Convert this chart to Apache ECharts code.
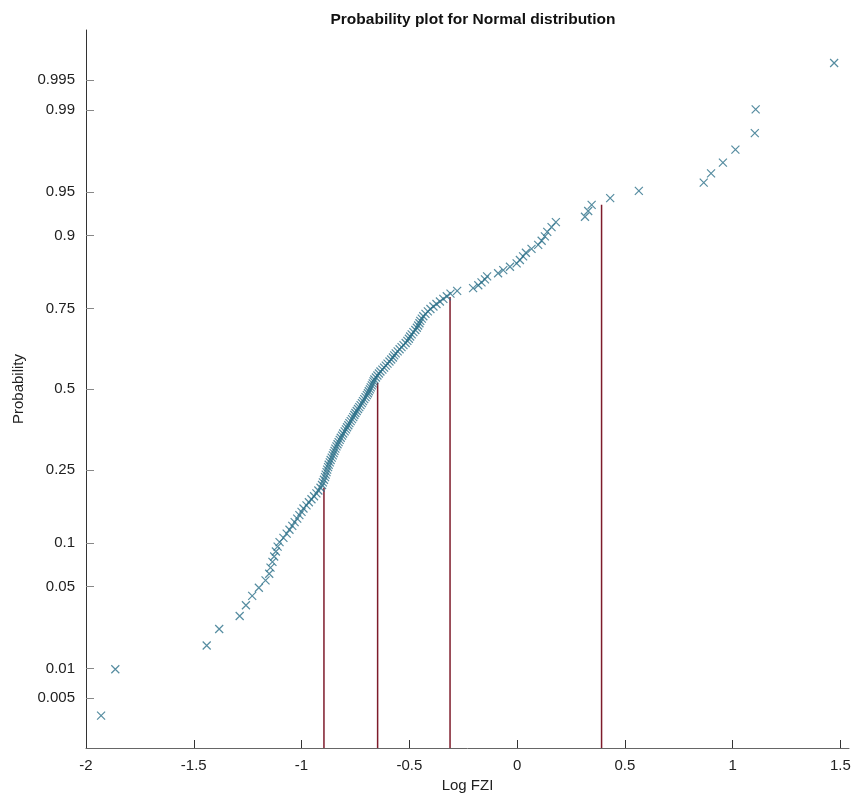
<!DOCTYPE html>
<html>
<head>
<meta charset="utf-8">
<script src="https://cdn.jsdelivr.net/npm/echarts@6.0.0/dist/echarts.min.js"></script>
<style>
html,body{margin:0;padding:0;background:#fff;}
#chart{width:859px;height:798px;}
</style>
</head>
<body>
<div id="chart"></div>
<script>
// ---- data ----
const chartTitle = 'Probability plot for Normal distribution';
const xName = 'Log FZI';
const yName = 'Probability';
const xTicks = [-2, -1.5, -1, -0.5, 0, 0.5, 1, 1.5];
const yTickProbs = [0.005, 0.01, 0.05, 0.1, 0.25, 0.5, 0.75, 0.9, 0.95, 0.99, 0.995];
const yTickLabels = ['0.005', '0.01', '0.05', '0.1', '0.25', '0.5', '0.75', '0.9', '0.95', '0.99', '0.995'];

// sorted Log FZI sample values (one per marker)
const logFZI = [
  -1.930, -1.864, -1.440, -1.382, -1.287, -1.258, -1.229, -1.198, -1.167, -1.150,
  -1.144, -1.135, -1.127, -1.119, -1.111, -1.102, -1.084, -1.069, -1.056, -1.043,
  -1.032, -1.020, -1.010, -1.000, -0.991, -0.977, -0.966, -0.954, -0.942, -0.931,
  -0.922, -0.912, -0.905, -0.901, -0.896, -0.891, -0.888, -0.884, -0.881, -0.877,
  -0.874, -0.869, -0.865, -0.860, -0.855, -0.851, -0.847, -0.843, -0.838, -0.833,
  -0.828, -0.823, -0.818, -0.812, -0.807, -0.800, -0.794, -0.789, -0.783, -0.778,
  -0.772, -0.766, -0.760, -0.755, -0.750, -0.744, -0.738, -0.732, -0.726, -0.720,
  -0.715, -0.709, -0.703, -0.697, -0.692, -0.688, -0.683, -0.679, -0.674, -0.670,
  -0.666, -0.662, -0.655, -0.648, -0.641, -0.634, -0.625, -0.617, -0.609, -0.601,
  -0.592, -0.584, -0.576, -0.570, -0.563, -0.554, -0.545, -0.536, -0.527, -0.517,
  -0.509, -0.502, -0.496, -0.489, -0.481, -0.472, -0.465, -0.459, -0.453, -0.449,
  -0.442, -0.435, -0.425, -0.414, -0.402, -0.388, -0.374, -0.358, -0.342, -0.326,
  -0.309, -0.278, -0.204, -0.180, -0.165, -0.149, -0.139, -0.088, -0.064, -0.033,
  -0.002, 0.013, 0.028, 0.041, 0.067, 0.098, 0.114, 0.129, 0.140, 0.160,
  0.180, 0.315, 0.330, 0.346, 0.432, 0.565, 0.866, 0.900, 0.955, 1.013,
  1.103, 1.107, 1.471
];

// vertical cut-off lines: x position and the probability where each stops
const cutoffX = [-0.896, -0.647, -0.311, 0.392];
const cutoffTopProb = [0.206, 0.521, 0.779, 0.938];

// ---- normal probability scale (inverse normal CDF) ----
function probit(p) {
  const a = [-3.969683028665376e+01, 2.209460984245205e+02, -2.759285104469687e+02, 1.383577518672690e+02, -3.066479806614716e+01, 2.506628277459239e+00];
  const b = [-5.447609879822406e+01, 1.615858368580409e+02, -1.556989798598866e+02, 6.680131188771972e+01, -1.328068155288572e+01];
  const c = [-7.784894002430293e-03, -3.223964580411365e-01, -2.400758277161838e+00, -2.549732539343734e+00, 4.374664141464968e+00, 2.938163982698783e+00];
  const d = [7.784695709041462e-03, 3.224671290700398e-01, 2.445134137142996e+00, 3.754408661907416e+00];
  const pl = 0.02425, ph = 1 - pl;
  let q, r;
  if (p < pl) {
    q = Math.sqrt(-2 * Math.log(p));
    return (((((c[0]*q+c[1])*q+c[2])*q+c[3])*q+c[4])*q+c[5]) / ((((d[0]*q+d[1])*q+d[2])*q+d[3])*q+1);
  } else if (p <= ph) {
    q = p - 0.5; r = q * q;
    return (((((a[0]*r+a[1])*r+a[2])*r+a[3])*r+a[4])*r+a[5])*q / (((((b[0]*r+b[1])*r+b[2])*r+b[3])*r+b[4])*r+1);
  } else {
    q = Math.sqrt(-2 * Math.log(1 - p));
    return -(((((c[0]*q+c[1])*q+c[2])*q+c[3])*q+c[4])*q+c[5]) / ((((d[0]*q+d[1])*q+d[2])*q+d[3])*q+1);
  }
}

const n = logFZI.length;
// empirical plotting positions (i-0.5)/n, mapped onto the probability scale
const points = logFZI.map((v, i) => [v, probit((i + 0.5) / n)]);
const yTickZ = yTickProbs.map(probit);
const Y_MIN = -2.99, Y_MAX = 2.995;

const markerColor = '#2a6f88';
const lineColor = '#7e1b2b';
const font = 'Liberation Sans, Arial, sans-serif';

const series = [{
  type: 'scatter',
  data: points,
  symbol: 'path://M0,0L10,10M10,0L0,10',
  symbolSize: 8,
  itemStyle: { color: 'rgba(0,0,0,0)', borderColor: markerColor, borderWidth: 1.2 },
  emphasis: { disabled: true },
  z: 3
}];
cutoffX.forEach((x, k) => {
  series.push({
    type: 'line',
    data: [[x, Y_MIN], [x, probit(cutoffTopProb[k])]],
    symbol: 'none',
    lineStyle: { color: lineColor, width: 1.5 },
    silent: true,
    z: 2
  });
});

const chart = echarts.init(document.getElementById('chart'), null, { renderer: 'canvas' });
chart.setOption({
  animation: false,
  backgroundColor: '#ffffff',
  title: {
    text: chartTitle,
    left: 468,
    top: 7,
    textAlign: 'center',
    textStyle: { fontFamily: font, fontSize: 15.5, fontWeight: 'bold', color: '#111' }
  },
  grid: { left: 86, right: 10, top: 30, bottom: 50, containLabel: false },
  xAxis: {
    type: 'value',
    min: -2,
    max: 1.54,
    name: xName,
    nameLocation: 'middle',
    nameGap: 28,
    nameTextStyle: { fontFamily: font, fontSize: 15, color: '#222' },
    axisLine: { show: true, onZero: false, lineStyle: { color: '#666', width: 1 } },
    axisTick: { show: true, inside: true, length: 8, customValues: xTicks, lineStyle: { color: '#333' } },
    axisLabel: {
      customValues: xTicks,
      margin: 10,
      fontFamily: font,
      fontSize: 15,
      color: '#222',
      formatter: v => String(Math.round(v * 10) / 10)
    },
    splitLine: { show: false }
  },
  yAxis: {
    type: 'value',
    min: Y_MIN,
    max: Y_MAX,
    name: yName,
    nameLocation: 'middle',
    nameGap: 54,
    nameTextStyle: { fontFamily: font, fontSize: 15, color: '#222' },
    axisLine: { show: true, onZero: false, lineStyle: { color: '#333', width: 1 } },
    axisTick: { show: true, inside: true, length: 8, customValues: yTickZ, lineStyle: { color: '#888' } },
    axisLabel: {
      customValues: yTickZ,
      margin: 11,
      fontFamily: font,
      fontSize: 15,
      color: '#222',
      formatter: v => {
        let best = 0;
        yTickZ.forEach((z, k) => { if (Math.abs(z - v) < Math.abs(yTickZ[best] - v)) best = k; });
        return yTickLabels[best];
      }
    },
    splitLine: { show: false }
  },
  series: series
});
</script>
</body>
</html>
